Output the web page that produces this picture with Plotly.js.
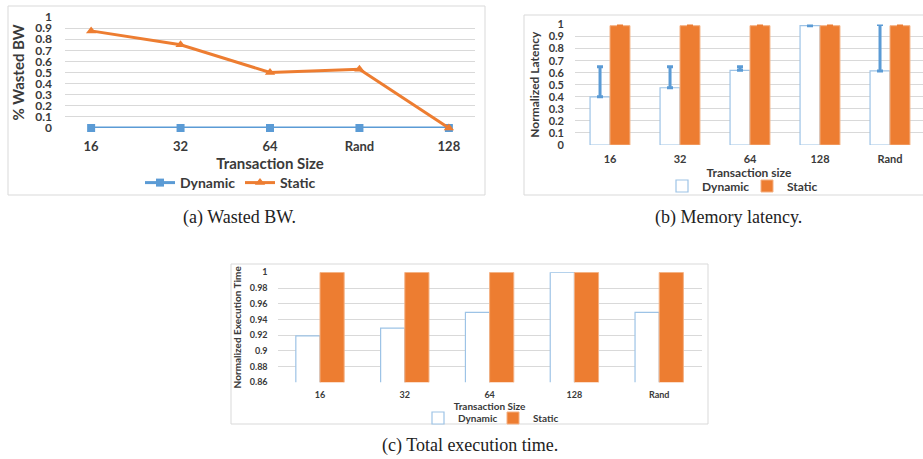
<!DOCTYPE html>
<html>
<head>
<meta charset="utf-8">
<script src="https://cdn.plot.ly/plotly-3.0.1.min.js"></script>
<style>html,body{margin:0;padding:0;background:#fff;}#chart{width:923px;height:459px;}</style>
</head>
<body>
<div id="chart"></div>
<script>
// ---- Data ----
const bwCategories = ['16', '32', '64', 'Rand', '128'];
const bwDynamic = [0, 0, 0, 0, 0];
const bwStatic = [0.875, 0.75, 0.5, 0.53, 0];

const latCategories = ['16', '32', '64', '128', 'Rand'];
const latDynamic = [0.40, 0.475, 0.62, 0.99, 0.615];
const latDynamicErr = [0.25, 0.175, 0.03, 0.01, 0.385];
const latStatic = [0.99, 0.99, 0.99, 0.99, 0.99];
const latStaticErr = [0.01, 0.01, 0.01, 0.01, 0.01];

const exeCategories = ['16', '32', '64', '128', 'Rand'];
const exeDynamic = [0.919, 0.929, 0.949, 1.0, 0.949];
const exeStatic = [1, 1, 1, 1, 1];

// ---- Style ----
const W = 923, H = 459;
const px = x => x / W;
const py = y => 1 - y / H;
const BLUE = '#5B9BD5', ORANGE = '#ED7D31', LBLUE = '#9DC3E6';
const GRID = '#d9d9d9';
const FONT = 'Lato, "Open Sans", sans-serif';
const TXT = '#3a3a3a';

const traces = [
  {x: bwCategories, y: bwDynamic, name: 'Dynamic', type: 'scatter', mode: 'lines+markers',
   line: {color: BLUE, width: 3}, marker: {symbol: 'square', size: 8, color: BLUE},
   xaxis: 'x', yaxis: 'y', legend: 'legend', cliponaxis: false},
  {x: bwCategories, y: bwStatic, name: 'Static', type: 'scatter', mode: 'lines+markers',
   line: {color: ORANGE, width: 3}, marker: {symbol: 'triangle-up', size: 9, color: ORANGE},
   xaxis: 'x', yaxis: 'y', legend: 'legend', cliponaxis: false},

  {x: latCategories, y: latDynamic, name: 'Dynamic', type: 'bar',
   marker: {color: '#ffffff', line: {color: LBLUE, width: 1.2}},
   error_y: {type: 'data', symmetric: false, array: latDynamicErr, arrayminus: [0,0,0,0,0],
             color: BLUE, thickness: 3, width: 3},
   xaxis: 'x2', yaxis: 'y2', legend: 'legend2', cliponaxis: false},
  {x: latCategories, y: latStatic, name: 'Static', type: 'bar',
   marker: {color: ORANGE, line: {color: '#F4B183', width: 1}},
   error_y: {type: 'data', symmetric: false, array: latStaticErr, arrayminus: [0,0,0,0,0],
             color: ORANGE, thickness: 3, width: 3},
   xaxis: 'x2', yaxis: 'y2', legend: 'legend2', cliponaxis: false},

  {x: exeCategories, y: exeDynamic, name: 'Dynamic', type: 'bar',
   marker: {color: '#ffffff', line: {color: LBLUE, width: 1.2}},
   xaxis: 'x3', yaxis: 'y3', legend: 'legend3'},
  {x: exeCategories, y: exeStatic, name: 'Static', type: 'bar',
   marker: {color: ORANGE, line: {color: '#F4B183', width: 1}},
   xaxis: 'x3', yaxis: 'y3', legend: 'legend3'}
];

function xax(domain, anchor, size, titleText, titleSize, standoff, tickstand, range) {
  const a = {domain: domain, anchor: anchor, type: 'category', showgrid: false, zeroline: false,
    showline: false, ticks: '', ticklabelstandoff: tickstand,
    tickfont: {family: FONT, size: size, color: TXT, weight: 'bold'},
    title: {text: titleText, font: {family: FONT, size: titleSize, color: TXT, weight: 'bold'}, standoff: standoff},
    automargin: false, fixedrange: true};
  if (range) a.range = range;
  return a;
}
function yax(domain, anchor, range, dtick, size, titleText, titleSize, standoff, tickstand) {
  return {domain: domain, anchor: anchor, range: range, dtick: dtick, showgrid: true, gridcolor: GRID,
    gridwidth: 1, zeroline: false, showline: false, ticks: '', ticklabelstandoff: tickstand,
    tickfont: {family: FONT, size: size, color: TXT, weight: 'bold'},
    title: {text: titleText, font: {family: FONT, size: titleSize, color: TXT, weight: 'bold'}, standoff: standoff},
    automargin: false, fixedrange: true};
}

const layout = {
  width: W, height: H, margin: {l: 0, r: 0, t: 0, b: 0},
  paper_bgcolor: '#ffffff', plot_bgcolor: 'rgba(0,0,0,0)',
  barmode: 'group', bargap: 0.43, bargroupgap: 0,
  showlegend: true,
  xaxis: xax([px(65), px(475)], 'y', 13, 'Transaction Size', 15, 2, 9),
  yaxis: yax([py(128), py(17)], 'x', [0, 1], 0.1, 12, '% Wasted BW', 15, 6, 12),
  xaxis2: xax([px(575), 1], 'y2', 11, 'Transaction size', 12, 0, 6, [-0.5, 4.5 - 2/70]),
  yaxis2: yax([py(145), py(24.5)], 'x2', [0, 1], 0.1, 11, 'Normalized Latency', 12, 6, 10),
  xaxis3: xax([px(277.6), px(701.6)], 'y3', 9, 'Transaction Size', 10, 0, 6),
  yaxis3: yax([py(382.3), py(272.3)], 'x3', [0.86, 1], 0.02, 9, 'Normalized Execution Time', 10, 6, 9),
  legend: {orientation: 'h', x: px(240), xanchor: 'center', y: py(183), yanchor: 'middle',
    font: {family: FONT, size: 14, color: TXT, weight: 'bold'}, bgcolor: 'rgba(0,0,0,0)',
    itemwidth: 30, entrywidth: 55},
  legend2: {orientation: 'h', x: px(747), xanchor: 'center', y: py(186), yanchor: 'middle',
    font: {family: FONT, size: 12, color: TXT, weight: 'bold'}, bgcolor: 'rgba(0,0,0,0)',
    itemwidth: 30, entrywidth: 40},
  legend3: {orientation: 'h', x: px(493), xanchor: 'center', y: py(418), yanchor: 'middle',
    font: {family: FONT, size: 10, color: TXT, weight: 'bold'}, bgcolor: 'rgba(0,0,0,0)',
    itemwidth: 30, entrywidth: 30},
  shapes: [
    {type: 'rect', xref: 'paper', yref: 'paper', x0: px(8), x1: px(485), y0: py(195), y1: py(6),
     line: {color: GRID, width: 1}, fillcolor: 'rgba(0,0,0,0)', layer: 'below'},
    {type: 'rect', xref: 'paper', yref: 'paper', x0: px(524), x1: px(930), y0: py(195), y1: py(15),
     line: {color: GRID, width: 1}, fillcolor: 'rgba(0,0,0,0)', layer: 'below'},
    {type: 'rect', xref: 'paper', yref: 'paper', x0: px(231), x1: px(708), y0: py(424), y1: py(264),
     line: {color: GRID, width: 1}, fillcolor: 'rgba(0,0,0,0)', layer: 'below'}
  ],
  annotations: [
    {text: '(a) Wasted BW.', xref: 'paper', yref: 'paper', x: px(240), y: py(218), showarrow: false,
     xanchor: 'center', yanchor: 'middle', font: {family: '"Liberation Serif", "DejaVu Serif", serif', size: 18, color: '#222'}},
    {text: '(b) Memory latency.', xref: 'paper', yref: 'paper', x: px(728), y: py(218), showarrow: false,
     xanchor: 'center', yanchor: 'middle', font: {family: '"Liberation Serif", "DejaVu Serif", serif', size: 18, color: '#222'}},
    {text: '(c) Total execution time.', xref: 'paper', yref: 'paper', x: px(470), y: py(445), showarrow: false,
     xanchor: 'center', yanchor: 'middle', font: {family: '"Liberation Serif", "DejaVu Serif", serif', size: 18, color: '#222'}}
  ]
};

Plotly.newPlot('chart', traces, layout, {displayModeBar: false, staticPlot: true});
</script>
</body>
</html>
